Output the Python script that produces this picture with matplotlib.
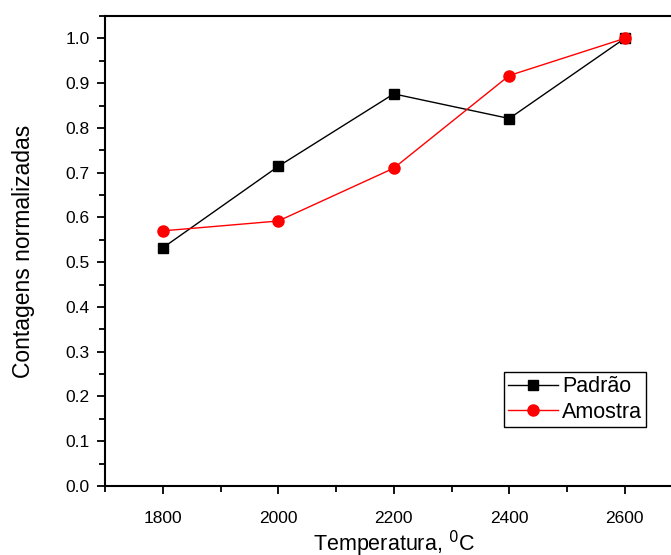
import matplotlib
matplotlib.use("Agg")
import matplotlib.pyplot as plt
from matplotlib.ticker import MultipleLocator

plt.rcParams['font.family'] = ['Liberation Sans', 'DejaVu Sans']

temperatura = [1800, 2000, 2200, 2400, 2600]
padrao = [0.532, 0.714, 0.876, 0.821, 1.0]
amostra = [0.570, 0.592, 0.710, 0.917, 1.0]

fig = plt.figure(figsize=(6.71, 5.55), dpi=100)
# axes run past the right edge, as in the cropped original
ax = fig.add_axes([105 / 671, 1 - 486 / 555, 577.5 / 671, 470 / 555])

ax.plot(temperatura, padrao, color='black', lw=1, marker='s', ms=7,
        label='Padrão')
ax.plot(temperatura, amostra, color='red', lw=1, marker='o', ms=8,
        label='Amostra')

ax.set_xlim(1700, 2700)
ax.set_ylim(0, 1.05)
ax.xaxis.set_major_locator(MultipleLocator(200))
ax.xaxis.set_minor_locator(MultipleLocator(100))
ax.yaxis.set_major_locator(MultipleLocator(0.1))
ax.yaxis.set_minor_locator(MultipleLocator(0.05))
ax.yaxis.set_major_formatter(plt.FormatStrFormatter('%.1f'))

ax.tick_params(which='both', direction='out', top=False, right=False,
               width=1.3, labelsize=12.5)
ax.tick_params(which='major', length=6)
ax.tick_params(which='minor', length=4)
ax.tick_params(axis='x', pad=12)
ax.tick_params(axis='y', pad=5)
for s in ax.spines.values():
    s.set_linewidth(1.5)

ax.set_xlabel('Temperatura, $^{0}$C', fontsize=15.5, labelpad=2)
ax.set_ylabel('Contagens normalizadas', fontsize=16.5, labelpad=22)

leg = ax.legend(loc='upper left', bbox_to_anchor=(399 / 577.5, 1 - 356 / 470),
                fontsize=15.5, frameon=True, fancybox=False, framealpha=1,
                edgecolor='black', handlelength=2.3, borderpad=0.2,
                labelspacing=0.2, handletextpad=0.2, borderaxespad=0)
leg.get_frame().set_linewidth(1)

fig.savefig('out.png', dpi=100)
